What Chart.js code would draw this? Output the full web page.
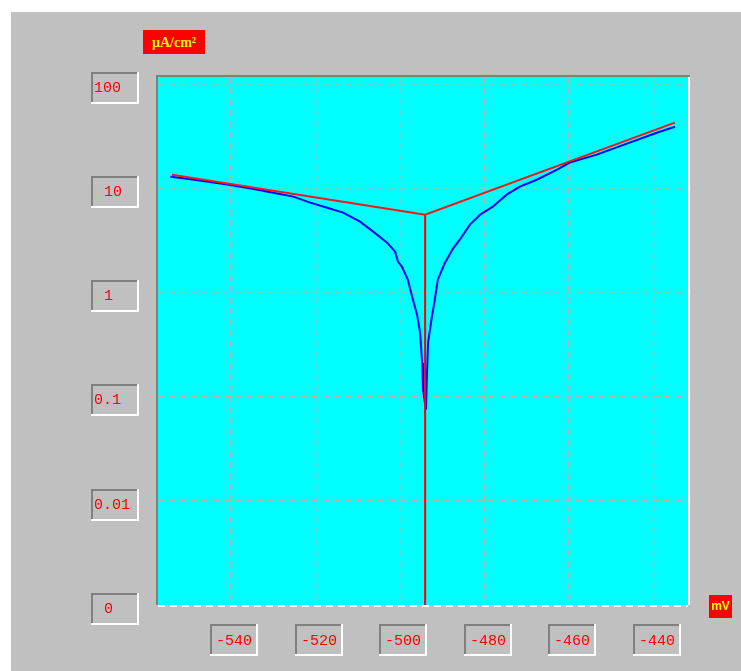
<!DOCTYPE html>
<html><head><meta charset="utf-8">
<script src="https://cdn.jsdelivr.net/npm/chart.js@4.4.1/dist/chart.umd.min.js"></script>
<style>html,body{margin:0;padding:0;background:#fff;overflow:hidden}canvas{display:block}</style>
</head><body><canvas id="c" width="741" height="671"></canvas>
<script>
// Measured polarization curve (mV, µA/cm²)
const potential = [-554.4,-550.9,-540.9,-535.0,-530.1,-525.3,-521.3,-517.3,-513.5,-509.5,-506.4,-503.1,-501.2,-500.5,-499.6,-498.2,-497.0,-496.0,-495.3,-494.8,-494.6,-493.9,-493.7,-493.4,-492.5,-491.8,-491.1,-489.4,-487.5,-485.9,-483.5,-481.1,-478.1,-474.8,-471.7,-467.7,-462.9,-459.9,-453.5,-445.7,-439.3,-435.0];
const current   = [12.8,12.3,10.8,9.85,9.0,8.26,7.23,6.47,5.80,4.75,3.81,2.99,2.45,1.96,1.76,1.32,0.85,0.61,0.41,0.21,0.116,0.075,0.145,0.33,0.58,0.85,1.32,1.92,2.62,3.19,4.45,5.54,6.62,8.63,10.3,12.0,15.0,17.5,20.9,27.2,33.9,38.7];
// Tafel fit lines
const fitPotential = [-554.0,-494.1,-435.0];
const fitCurrent   = [13.4,5.55,42.3];
const corrPotential = -494.1;
const corrCurrent = 5.55;
// Axes
const xTickValues = [-540,-520,-500,-480,-460,-440];
const xTickLabels = ['-540','-520','-500','-480','-460','-440'];
const yTickValues = [100,10,1,0.1,0.01,0.001];
const yTickLabels = ['100','10','1','0.1','0.01','0'];
const yUnit = 'µA/cm²';
const xUnit = 'mV';

const curvePts = potential.map((x,i)=>({x:x,y:current[i]}));
const fitPts = fitPotential.map((x,i)=>({x:x,y:fitCurrent[i]}));

function sunkenBox(ctx,x1,y1,x2,y2){
  ctx.fillStyle='#c0c0c0';ctx.fillRect(x1,y1,x2-x1,y2-y1);
  ctx.fillStyle='#808080';
  ctx.fillRect(x1,y1,x2-x1,2);ctx.fillRect(x1,y1,2,y2-y1);
  ctx.fillStyle='#ffffff';
  ctx.fillRect(x1,y2-2,x2-x1,2);ctx.fillRect(x2-2,y1,2,y2-y1);
}

const deco = {
  id:'deco',
  beforeDraw(chart){
    const ctx=chart.ctx, a=chart.chartArea;
    ctx.save();
    ctx.fillStyle='#ffffff';ctx.fillRect(0,0,chart.width,chart.height);
    ctx.fillStyle='#c0c0c0';ctx.fillRect(11,12,chart.width-11,chart.height-12);
    ctx.fillStyle='#00ffff';ctx.fillRect(a.left,a.top,a.right-a.left,a.bottom-a.top);
    ctx.restore();
  },
  afterDraw(chart){
    const ctx=chart.ctx, a=chart.chartArea;
    const xs=chart.scales.x, ys=chart.scales.y;
    ctx.save();
    // frame
    ctx.fillStyle='#808080';
    ctx.fillRect(a.left-2,a.top-2,a.right-a.left+4,2);
    ctx.fillRect(a.left-2,a.top-2,2,a.bottom-a.top+2);
    ctx.fillStyle='#ffffff';
    ctx.fillRect(a.right,a.top,2,a.bottom-a.top);
    ctx.strokeStyle='#ffffff';ctx.lineWidth=2;ctx.setLineDash([7,5]);
    ctx.beginPath();ctx.moveTo(a.left,a.bottom+1);ctx.lineTo(a.right,a.bottom+1);ctx.stroke();
    ctx.setLineDash([]);
    // tick labels
    ctx.font='15px "Liberation Mono", monospace';
    ctx.textBaseline='middle';
    yTickValues.forEach((v,i)=>{
      const py=Math.round(ys.getPixelForValue(v));
      sunkenBox(ctx,91,py-12,139,py+20);
      ctx.fillStyle='#ff0000';ctx.textAlign='left';
      const lbl=yTickLabels[i];
      ctx.fillText(lbl,lbl.length>=3?94:104,py+4);
    });
    ctx.textAlign='center';
    xTickValues.forEach((v,i)=>{
      const px=Math.round(xs.getPixelForValue(v));
      sunkenBox(ctx,px-21,624,px+27,656);
      ctx.fillStyle='#ff0000';
      ctx.fillText(xTickLabels[i],px+3,641);
    });
    // units
    ctx.fillStyle='#ff0000';ctx.fillRect(143,30,62,24);
    ctx.fillRect(709,595,23,23);
    ctx.fillStyle='#ffff00';
    ctx.font='bold 14px "Liberation Serif", serif';
    ctx.fillText(yUnit,174,43);
    ctx.font='bold 12px "Liberation Sans", sans-serif';
    ctx.fillText(xUnit,720.5,607);
    ctx.restore();
  }
};

new Chart(document.getElementById('c'),{
  type:'scatter',
  data:{datasets:[
    {data:fitPts,showLine:true,borderColor:'#f01818',borderWidth:2,pointRadius:0,tension:0},
    {data:[{x:corrPotential,y:corrCurrent},{x:corrPotential,y:yTickValues[yTickValues.length-1]}],showLine:true,borderColor:'#ff0000',borderWidth:2,pointRadius:0,tension:0},
    {data:curvePts,showLine:true,borderColor:'#0000ff',borderWidth:2,pointRadius:0,tension:0}
  ]},
  options:{
    responsive:false,animation:false,
    layout:{padding:{left:158,top:77,right:53,bottom:66}},
    plugins:{legend:{display:false},tooltip:{enabled:false}},
    scales:{
      x:{type:'linear',min:-557.3,max:-431.9,
        afterBuildTicks(s){s.ticks=xTickValues.map(v=>({value:v}));},
        ticks:{display:false},
        grid:{color:'#b4b4b4',lineWidth:1.5,drawTicks:false},
        border:{display:false,dash:[6,5]}},
      y:{type:'logarithmic',min:0.001,max:116,
        afterBuildTicks(s){s.ticks=yTickValues.slice(0,5).map(v=>({value:v}));},
        ticks:{display:false},
        grid:{color:'#b4b4b4',lineWidth:1.5,drawTicks:false},
        border:{display:false,dash:[6,5]}}
    }
  },
  plugins:[deco]
});
</script></body></html>
